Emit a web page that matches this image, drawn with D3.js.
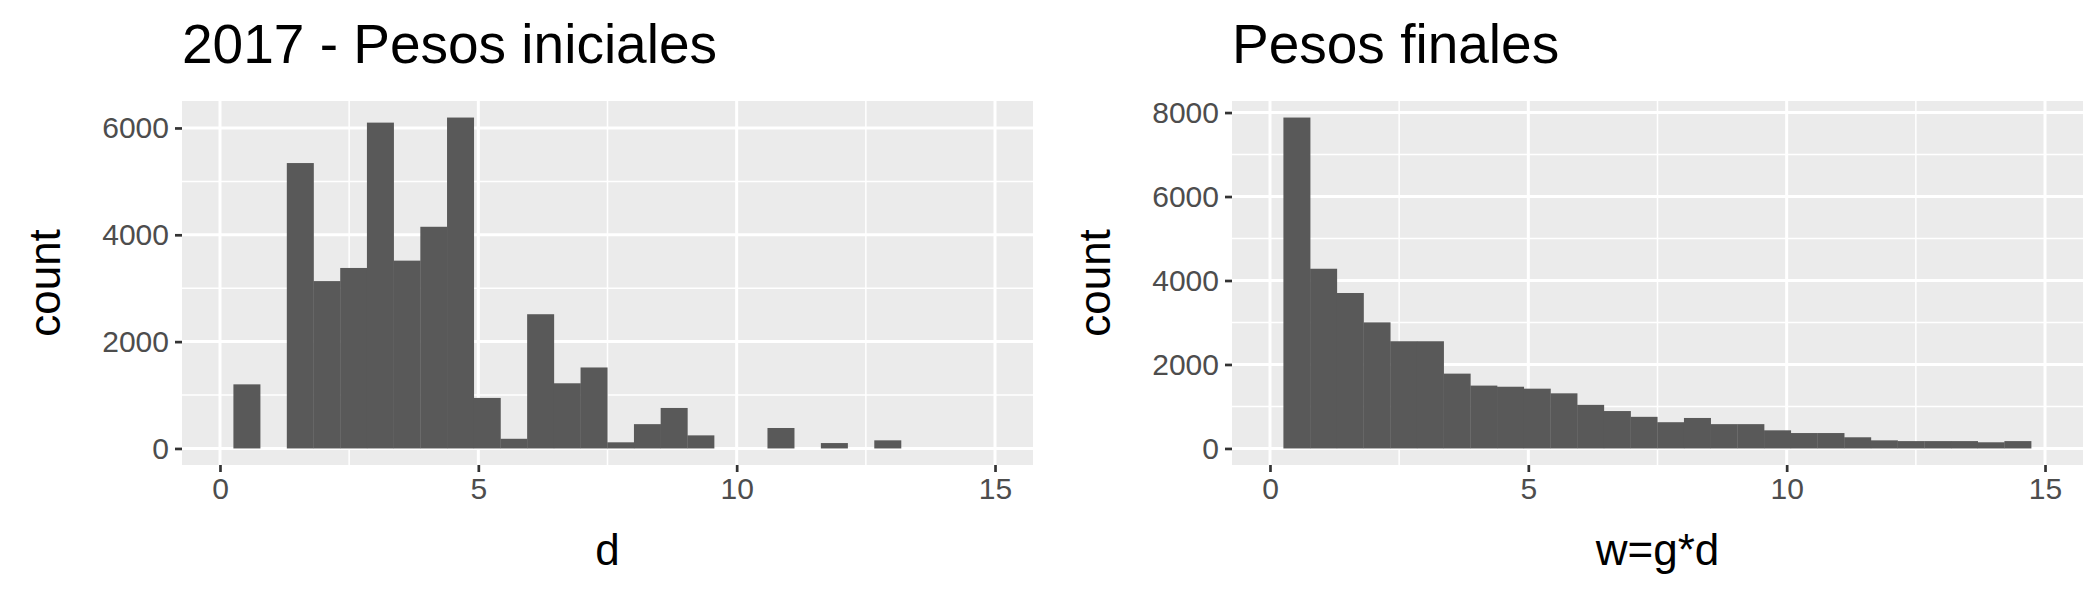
<!DOCTYPE html>
<html><head><meta charset="utf-8">
<script src="https://cdn.jsdelivr.net/npm/d3@7"></script>
<style>body{margin:0;background:#fff}</style></head>
<body><svg id="c" width="2100" height="600"></svg>
<script>
const binStart = 0.26, binWidth = 0.5168;
const initialCounts = [1200,0,5343,3133,3379,6100,3516,4150,6195,946,181,2513,1220,1516,115,455,758,245,0,0,383,0,101,0,152,0,0,0];
const finalCounts = [7881,4280,3702,3003,2553,2553,1782,1497,1470,1424,1313,1038,891,753,625,726,579,579,432,367,367,266,193,175,175,175,147,175];
const titles = ["2017 - Pesos iniciales","Pesos finales"];
const xTitles = ["d","w=g*d"];
const xTicks = [0,5,10,15];
const yTicksList = [[0,2000,4000,6000],[0,2000,4000,6000,8000]];
const font = "Liberation Sans, Arial, sans-serif";
const svg = d3.select("#c");

function panel(ox, counts, title, xt, yTicks){
  const L = ox+182, R = ox+1033, T = 101, B = 465;
  const x = d3.scaleLinear().domain([-0.735,15.735]).range([L,R]);
  const mx = d3.max(counts);
  const y = d3.scaleLinear().domain([-0.05*mx,1.05*mx]).range([B,T]);
  const g = svg.append("g");
  g.append("rect").attr("x",L).attr("y",T).attr("width",R-L).attr("height",B-T).attr("fill","#ebebeb");
  const minorX = [2.5,7.5,12.5];
  const minorY = yTicks.slice(0,-1).map(v=>v+1000).concat(yTicks[yTicks.length-1]+1000 < 1.05*mx ? [yTicks[yTicks.length-1]+1000] : []);
  minorX.forEach(v=>g.append("line").attr("x1",x(v)).attr("x2",x(v)).attr("y1",T).attr("y2",B).attr("stroke","#fff").attr("stroke-width",1.5));
  minorY.forEach(v=>g.append("line").attr("x1",L).attr("x2",R).attr("y1",y(v)).attr("y2",y(v)).attr("stroke","#fff").attr("stroke-width",1.5));
  xTicks.forEach(v=>g.append("line").attr("x1",x(v)).attr("x2",x(v)).attr("y1",T).attr("y2",B).attr("stroke","#fff").attr("stroke-width",3));
  yTicks.forEach(v=>g.append("line").attr("x1",L).attr("x2",R).attr("y1",y(v)).attr("y2",y(v)).attr("stroke","#fff").attr("stroke-width",3));
  g.selectAll("rect.bar").data(counts).join("rect").attr("class","bar")
    .attr("x",(d,i)=>x(binStart+i*binWidth)).attr("width",(d,i)=>x(binStart+(i+1)*binWidth)-x(binStart+i*binWidth)+0.3)
    .attr("y",d=>y(d)).attr("height",d=>y(0)-y(d)).attr("fill","#595959");
  const xa = g.append("g").attr("transform",`translate(0,${B})`).call(d3.axisBottom(x).tickValues(xTicks).tickSize(7).tickPadding(6).tickFormat(d3.format("d")));
  const ya = g.append("g").attr("transform",`translate(${L},0)`).call(d3.axisLeft(y).tickValues(yTicks).tickSize(7).tickPadding(6).tickFormat(d3.format("d")));
  [xa,ya].forEach(a=>{a.select(".domain").remove();a.selectAll("line").attr("stroke","#333").attr("stroke-width",2.7);
    a.selectAll("text").attr("fill","#4d4d4d").style("font-family",font).style("font-size","30px");});
  g.append("text").attr("x",L).attr("y",63).text(title).style("font-family",font).style("font-size","55px").attr("fill","#000");
  g.append("text").attr("x",(L+R)/2).attr("y",565).attr("text-anchor","middle").text(xt).style("font-family",font).style("font-size","44px");
  g.append("text").attr("transform",`translate(${ox+60},${(T+B)/2}) rotate(-90)`).attr("text-anchor","middle").text("count").style("font-family",font).style("font-size","44px");
}
panel(0, initialCounts, titles[0], xTitles[0], yTicksList[0]);
panel(1050, finalCounts, titles[1], xTitles[1], yTicksList[1]);
</script></body></html>
